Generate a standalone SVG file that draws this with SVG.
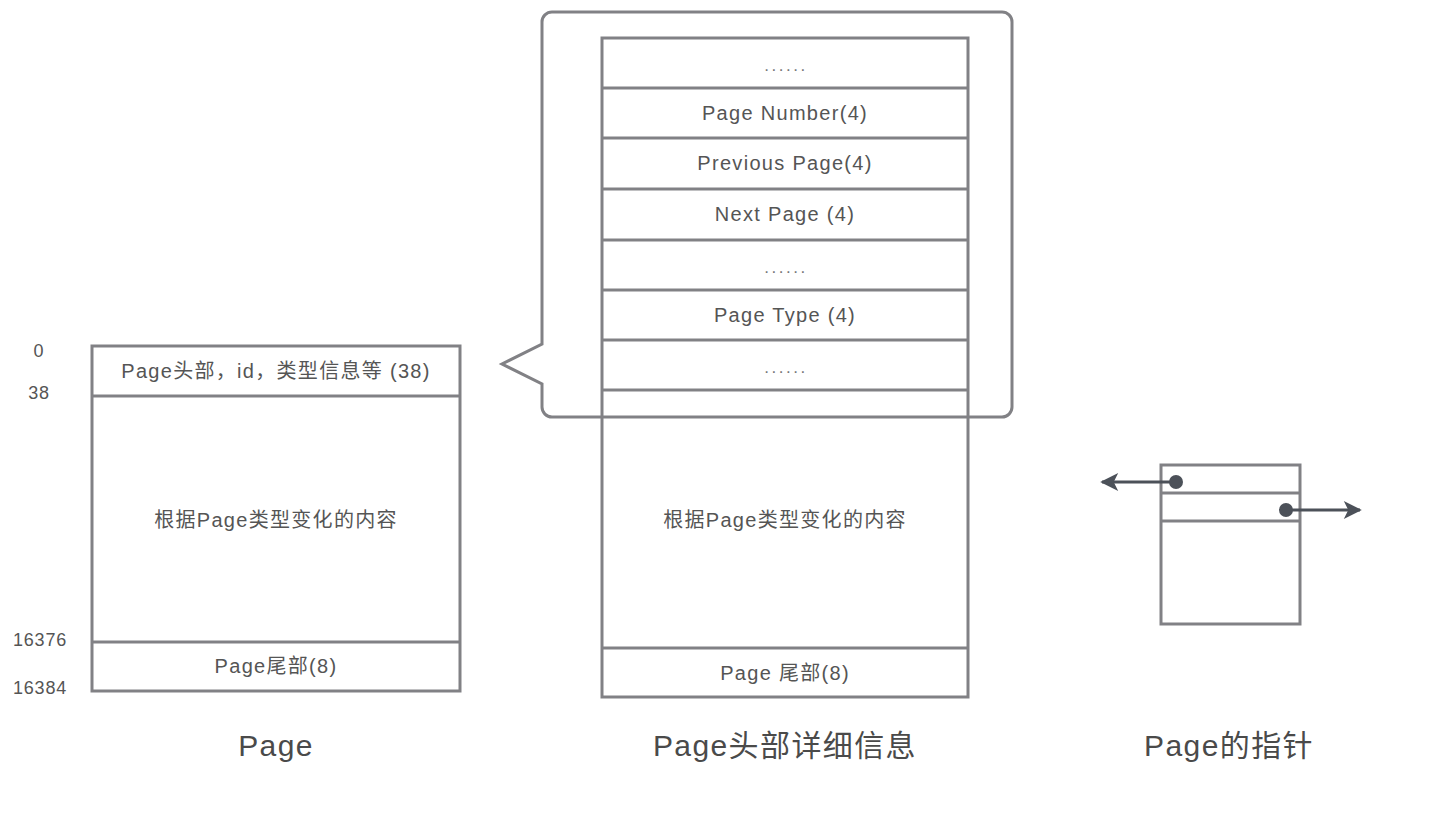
<svg xmlns="http://www.w3.org/2000/svg" width="1446" height="814" viewBox="0 0 1446 814">
<defs>
<style>
.box{fill:#fff;stroke:#818185;stroke-width:3}
.ln{stroke:#818185;stroke-width:3;fill:none}
.t{font-family:"Liberation Sans","Noto Sans CJK SC",sans-serif;font-size:20px;letter-spacing:1.3px;fill:#555;text-anchor:middle}
.n{font-family:"Liberation Sans","Noto Sans CJK SC",sans-serif;font-size:18px;letter-spacing:0.8px;fill:#555;text-anchor:middle}
.title{font-family:"Liberation Sans","Noto Sans CJK SC",sans-serif;font-size:30px;letter-spacing:1.4px;fill:#4a4a4a;text-anchor:middle}
.dots{font-family:"Liberation Sans",sans-serif;font-size:17px;fill:#777;text-anchor:middle;letter-spacing:2.5px}
.ptr{stroke:#4c5159;stroke-width:3;fill:none}
</style>
<marker id="ah" viewBox="0 0 10 10" refX="9" refY="5" markerWidth="19" markerHeight="18" orient="auto-start-reverse" markerUnits="userSpaceOnUse">
<path d="M0,0 L10,5 L0,10 L2.5,5 Z" fill="#4c5159"/>
</marker>
</defs>
<rect width="1446" height="814" fill="#fff"/>

<g id="page">
<rect class="box" x="92" y="346" width="368" height="345"/>
<line class="ln" x1="92" y1="396" x2="460" y2="396"/>
<line class="ln" x1="92" y1="642" x2="460" y2="642"/>
<text class="t" x="276" y="378">Page头部，id，类型信息等 (38)</text>
<text class="t" x="276" y="527">根据Page类型变化的内容</text>
<text class="t" x="276" y="673">Page尾部(8)</text>
<text class="n" x="39" y="357">0</text>
<text class="n" x="39" y="399">38</text>
<text class="n" x="40" y="646">16376</text>
<text class="n" x="40" y="694">16384</text>
<text class="title" x="276" y="756">Page</text>
</g>

<g id="detail">
<rect class="box" x="602" y="38" width="366" height="659"/>
<line class="ln" x1="602" y1="88" x2="968" y2="88"/>
<line class="ln" x1="602" y1="138" x2="968" y2="138"/>
<line class="ln" x1="602" y1="189" x2="968" y2="189"/>
<line class="ln" x1="602" y1="240" x2="968" y2="240"/>
<line class="ln" x1="602" y1="290" x2="968" y2="290"/>
<line class="ln" x1="602" y1="340" x2="968" y2="340"/>
<line class="ln" x1="602" y1="390" x2="968" y2="390"/>
<line class="ln" x1="602" y1="648" x2="968" y2="648"/>
<text class="dots" x="786" y="71">......</text>
<text class="t" x="785" y="120">Page Number(4)</text>
<text class="t" x="785" y="170">Previous Page(4)</text>
<text class="t" x="785" y="221">Next Page (4)</text>
<text class="dots" x="786" y="273">......</text>
<text class="t" x="785" y="322">Page Type (4)</text>
<text class="dots" x="786" y="373">......</text>
<text class="t" x="785" y="527">根据Page类型变化的内容</text>
<text class="t" x="785" y="680">Page 尾部(8)</text>
<text class="title" x="785" y="756">Page头部详细信息</text>
</g>

<g id="callout">
<path class="ln" d="M552,12 H1002 A10,10 0 0 1 1012,22 V407 A10,10 0 0 1 1002,417 H552 A10,10 0 0 1 542,407 V384 L502,364 L542,344 V22 A10,10 0 0 1 552,12 Z"/>
</g>

<g id="pointer">
<rect class="box" x="1161" y="465" width="139" height="159"/>
<line class="ln" x1="1161" y1="493" x2="1300" y2="493"/>
<line class="ln" x1="1161" y1="521" x2="1300" y2="521"/>
<text class="title" x="1229" y="756">Page的指针</text>
</g>

<g id="connectors">
<line class="ptr" x1="1176" y1="482" x2="1102" y2="482" marker-end="url(#ah)"/>
<circle cx="1176" cy="482" r="7" fill="#4c5159"/>
<line class="ptr" x1="1286" y1="510" x2="1360" y2="510" marker-end="url(#ah)"/>
<circle cx="1286" cy="510" r="7" fill="#4c5159"/>
</g>
</svg>
